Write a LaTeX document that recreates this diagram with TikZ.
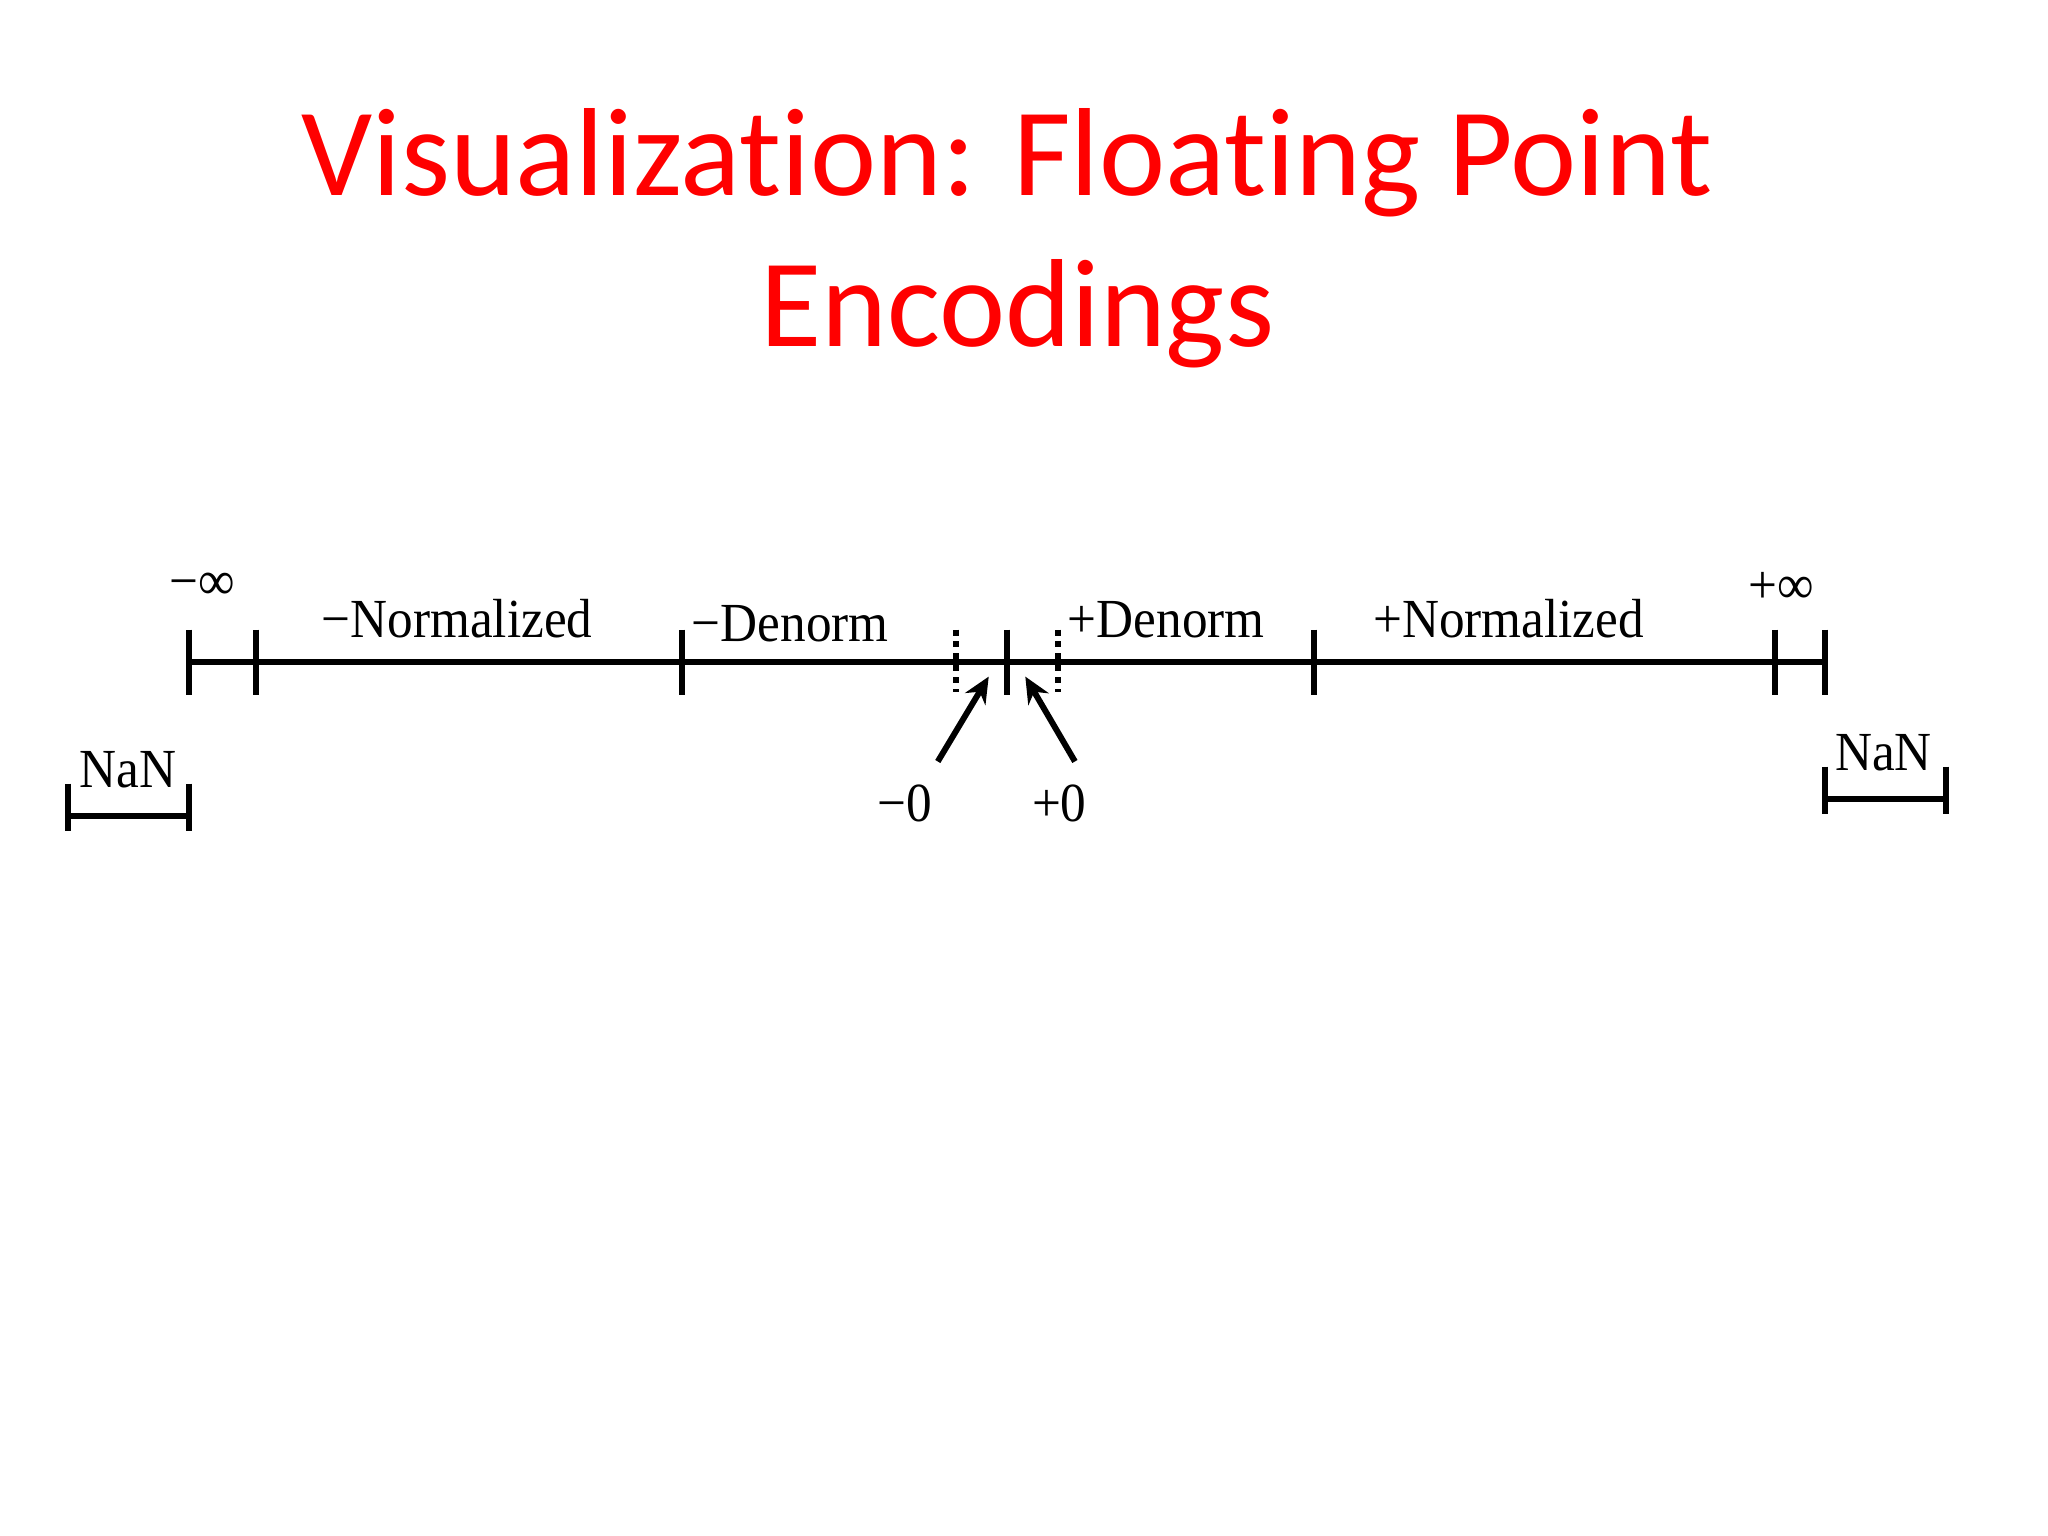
\documentclass[tikz,border=0pt]{standalone}
\usepackage{fontspec}
\setmainfont{Liberation Serif}
\newfontfamily\titlefont[Ligatures=NoCommon]{Carlito}
\newfontfamily\lblfont[FakeStretch=0.93]{Liberation Serif}
\usetikzlibrary{arrows.meta}

\begin{document}
\begin{tikzpicture}[x=0.1mm, y=-0.1mm,
      axis/.style={line width=1.3pt},
      tickmark/.style={line width=1.3pt},
      dots/.style={line width=1.3pt, dash pattern=on 1.3pt off 1.3pt},
      lbl/.style={font=\lblfont\fontsize{12}{14}\selectfont, anchor=base, inner sep=0pt},
      ttl/.style={font=\titlefont\fontsize{27.3}{33}\selectfont, text=red, anchor=base, inner sep=0pt},
      >={Stealth[length=2mm, width=1.8mm]}]
    \useasboundingbox (0,0) rectangle (1568,1176);
    % title
    \node[ttl] (title1) at (771,150) {Visualization: Floating Point};
    \node[ttl] (title2) at (779,265) {Encodings};
    % number line
    \coordinate (ninf) at (145,507);
    \coordinate (nnorm) at (196,507);
    \coordinate (nden) at (522,507);
    \coordinate (zero) at (771,507);
    \coordinate (pden) at (1006,507);
    \coordinate (pnorm) at (1359,507);
    \coordinate (pinf) at (1397,507);
    \coordinate (ndot) at (732,507);
    \coordinate (pdot) at (810,507);
    \draw[axis] (ninf) -- (pinf);
    \foreach \c in {ninf,nnorm,nden,zero,pden,pnorm,pinf}
      \draw[tickmark] ([yshift=2.5mm]\c) -- ([yshift=-2.5mm]\c);
    \foreach \c in {ndot,pdot}
      \draw[dots] ([yshift=2.5mm]\c) -- ([yshift=-2.3mm]\c);
    % NaN brackets
    \coordinate (nanla) at (52,625);
    \coordinate (nanlb) at (145,625);
    \coordinate (nanra) at (1397,612);
    \coordinate (nanrb) at (1490,612);
    \draw[axis] (nanla) -- (nanlb);
    \draw[axis] (nanra) -- (nanrb);
    \foreach \c in {nanla,nanlb,nanra,nanrb}
      \draw[tickmark] ([yshift=2.5mm]\c) -- ([yshift=-1.1mm]\c);
    % labels
    \node[lbl] (minf) at (155,459) {−∞};
    \node[lbl] (nnormlbl) at (350,488) {−Normalized};
    \node[lbl] (ndenlbl) at (605,491) {−Denorm};
    \node[lbl] (pdenlbl) at (893,488) {+Denorm};
    \node[lbl] (pnormlbl) at (1155,488) {+Normalized};
    \node[lbl] (pinflbl) at (1364,462) {+∞};
    \node[lbl] (nanl) at (98,603) {NaN};
    \node[lbl] (nanr) at (1442,590) {NaN};
    \node[lbl] (mz) at (693,629) {−0};
    \node[lbl] (pz) at (811,629) {+0};
    % zero arrows
    \coordinate (mztail) at (718,583);
    \coordinate (mzhead) at (757,518);
    \coordinate (pztail) at (823,583);
    \coordinate (pzhead) at (785,518);
    \draw[->, line width=1.3pt] (mztail) -- (mzhead);
    \draw[->, line width=1.3pt] (pztail) -- (pzhead);
  \end{tikzpicture}
\end{document}
